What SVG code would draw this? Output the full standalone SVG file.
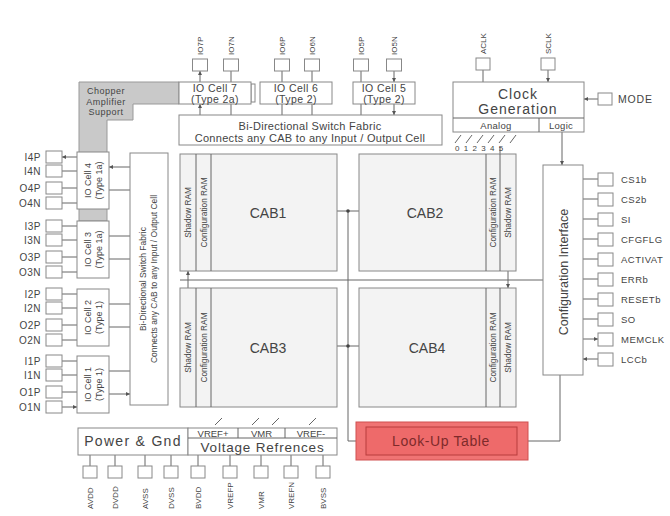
<svg xmlns="http://www.w3.org/2000/svg" width="670" height="516" viewBox="0 0 670 516">
<style>
text{font-family:"Liberation Sans",Arial,sans-serif;fill:#444}
.b{fill:#fff;stroke:#888;stroke-width:1}
.cab{fill:#f3f3f3;stroke:#888;stroke-width:1}
.pin{fill:#fff;stroke:#888;stroke-width:1}
.ln{stroke:#666;stroke-width:1;fill:none}
.da{stroke:#666;stroke-width:1;fill:none;marker-start:url(#ah);marker-end:url(#ah)}
.ae{stroke:#666;stroke-width:1;fill:none;marker-end:url(#ah)}
.s8{font-size:8px}
.s9{font-size:9px}
.lp{font-size:10px;letter-spacing:0.5px}
.rp{font-size:9.5px;letter-spacing:0.5px}
.io{font-size:10.5px;letter-spacing:0.4px}
.ch{font-size:9px;letter-spacing:0.5px}
.s14{font-size:14px}
.ram{font-size:8.3px}
.c{text-anchor:middle}
.e{text-anchor:end}
</style>
<defs>
<marker id="ah" viewBox="0 0 6 6" refX="6" refY="3" markerWidth="4" markerHeight="4" orient="auto-start-reverse"><path d="M0,0L6,3L0,6z" fill="#555"/></marker>
</defs>

<g id="chopper">
<path d="M79,82H179V104H133V120H107V221H79Z" fill="#c9c9c9" stroke="#999"/>
<text class="ch c" x="106" y="94">Chopper</text>
<text class="ch c" x="106" y="104.5">Amplifier</text>
<text class="ch c" x="106" y="115">Support</text>
</g>

<g id="connectors">
<path class="da" d="M200,71V82M231,71V82M282,71V82M312,71V82M361,71V82M394,71V82"/>
<path class="da" d="M200,104V115M231,104V115M282,104V115M312,104V115M361,104V115M394,104V115"/>
<path class="ae" d="M483,70V82M548,70V82"/>
<path class="ae" d="M598,99H584"/>
<path class="ae" d="M562,132V165"/>
<path class="ln" d="M455,143L461,135M466,143L472,135M477,143L483,135M488,143L494,135M499,143L505,135M510,143L516,135M500,147V154"/>
<path class="da" d="M62,157H77M62,171H77M62,188H77M62,203H77M62,226H77M62,240H77M62,257H77M62,272H77M62,294H77M62,308H77M62,325H77M62,340H77M62,361H77M62,375H77M62,392H77M62,407H77"/>
<path class="da" d="M109,167H130M109,190H130M109,236H130M109,259H130M109,304H130M109,327H130M109,371H130M109,394H130"/>
<path class="ae" d="M598,179H583M598,199H583M598,219H583M598,239H583M598,259H583M598,279H583M598,299H583M598,359H583"/>
<path class="ae" d="M583,319H598M583,339H598"/>
<path class="ln" d="M180,280H543"/>
<path class="da" d="M188,271V288M508,271V288"/>
<path class="ae" d="M348,211H325"/>
<path class="ae" d="M348,211H372"/>
<path class="ae" d="M348,346H325"/>
<path class="ae" d="M348,346H370"/>
<path class="ae" d="M348,211V441H366"/>
<circle cx="348" cy="211" r="1.8" fill="#444"/>
<circle cx="348" cy="346" r="1.8" fill="#444"/>
<path class="ae" d="M560,375V441H518"/>
<path class="ln" d="M215,425L222,418M252,425L259,418M272,425L279,418M309,425L316,418"/>
<path class="ln" d="M90,455V466M115,455V466M145,455V466M171,455V466M198,455V466M230,455V466M261,455V466M291,455V466M323,455V466"/>
</g>

<g id="top-pins">
<rect class="pin" x="192.5" y="59" width="15" height="12"/>
<rect class="pin" x="223.5" y="59" width="15" height="12"/>
<rect class="pin" x="274.5" y="59" width="15" height="12"/>
<rect class="pin" x="304.5" y="59" width="15" height="12"/>
<rect class="pin" x="353.5" y="59" width="15" height="12"/>
<rect class="pin" x="386.5" y="59" width="15" height="12"/>
<rect class="pin" x="476" y="58" width="14" height="12"/>
<rect class="pin" x="541" y="58" width="14" height="12"/>
<text class="s8" transform="translate(203,55) rotate(-90)">IO7P</text>
<text class="s8" transform="translate(234,55) rotate(-90)">IO7N</text>
<text class="s8" transform="translate(285,55) rotate(-90)">IO6P</text>
<text class="s8" transform="translate(315,55) rotate(-90)">IO6N</text>
<text class="s8" transform="translate(364,55) rotate(-90)">IO5P</text>
<text class="s8" transform="translate(397,55) rotate(-90)">IO5N</text>
<text class="s8" transform="translate(486,54) rotate(-90)">ACLK</text>
<text class="s8" transform="translate(551,54) rotate(-90)">SCLK</text>
</g>

<g id="io7">
<rect class="b" x="251" y="84" width="4" height="18"/>
<rect class="b" x="179" y="82" width="72" height="22"/>
<text class="io c" x="215" y="92">IO Cell 7</text>
<text class="io c" x="215" y="102.5">(Type 2a)</text>
</g>
<g id="io6">
<rect class="b" x="260" y="82" width="72" height="22"/>
<text class="io c" x="296" y="92">IO Cell 6</text>
<text class="io c" x="296" y="102.5">(Type 2)</text>
</g>
<g id="io5">
<rect class="b" x="353" y="82" width="62" height="22"/>
<text class="io c" x="384" y="92">IO Cell 5</text>
<text class="io c" x="384" y="102.5">(Type 2)</text>
</g>

<g id="fabric-top">
<rect class="b" x="179" y="115" width="263" height="30"/>
<text class="c" style="font-size:11px;letter-spacing:0.3px" x="310" y="130">Bi-Directional Switch Fabric</text>
<text class="c" style="font-size:11px;letter-spacing:0.3px" x="310" y="141.5">Connects any CAB to any Input / Output Cell</text>
</g>

<g id="clock">
<rect class="b" x="453" y="82" width="131" height="50"/>
<path class="ln" d="M453,118H584M539,118V132"/>
<text class="c" style="font-size:14px;letter-spacing:1px" x="518" y="99">Clock</text>
<text class="c" style="font-size:14px;letter-spacing:1px" x="518" y="114">Generation</text>
<text class="c" style="font-size:9.5px;letter-spacing:0.3px" x="496" y="128.5">Analog</text>
<text class="c" style="font-size:9.5px;letter-spacing:0.3px" x="561" y="128.5">Logic</text>
<text class="s8" x="455" y="151" letter-spacing="4.3">012345</text>
</g>

<g id="mode">
<rect class="pin" x="598" y="93" width="14" height="12"/>
<text style="font-size:10.5px;letter-spacing:0.8px" x="618" y="103">MODE</text>
</g>

<g id="left-pins">
<rect class="pin" x="46" y="151" width="16" height="12"/>
<rect class="pin" x="46" y="165" width="16" height="12"/>
<rect class="pin" x="46" y="182" width="16" height="12"/>
<rect class="pin" x="46" y="197" width="16" height="12"/>
<rect class="pin" x="46" y="220" width="16" height="12"/>
<rect class="pin" x="46" y="234" width="16" height="12"/>
<rect class="pin" x="46" y="251" width="16" height="12"/>
<rect class="pin" x="46" y="266" width="16" height="12"/>
<rect class="pin" x="46" y="288" width="16" height="12"/>
<rect class="pin" x="46" y="302" width="16" height="12"/>
<rect class="pin" x="46" y="319" width="16" height="12"/>
<rect class="pin" x="46" y="334" width="16" height="12"/>
<rect class="pin" x="46" y="355" width="16" height="12"/>
<rect class="pin" x="46" y="369" width="16" height="12"/>
<rect class="pin" x="46" y="386" width="16" height="12"/>
<rect class="pin" x="46" y="401" width="16" height="12"/>
<text class="lp e" x="41" y="160.5">I4P</text>
<text class="lp e" x="41" y="174.5">I4N</text>
<text class="lp e" x="41" y="191.5">O4P</text>
<text class="lp e" x="41" y="206.5">O4N</text>
<text class="lp e" x="41" y="229.5">I3P</text>
<text class="lp e" x="41" y="243.5">I3N</text>
<text class="lp e" x="41" y="260.5">O3P</text>
<text class="lp e" x="41" y="275.5">O3N</text>
<text class="lp e" x="41" y="297.5">I2P</text>
<text class="lp e" x="41" y="311.5">I2N</text>
<text class="lp e" x="41" y="328.5">O2P</text>
<text class="lp e" x="41" y="343.5">O2N</text>
<text class="lp e" x="41" y="364.5">I1P</text>
<text class="lp e" x="41" y="378.5">I1N</text>
<text class="lp e" x="41" y="395.5">O1P</text>
<text class="lp e" x="41" y="410.5">O1N</text>
</g>

<g id="io4">
<rect class="b" x="77" y="152" width="32" height="57"/>
<text class="s9 c" transform="translate(91,180.5) rotate(-90)">IO Cell 4</text>
<text class="s9 c" transform="translate(102,180.5) rotate(-90)">(Type 1a)</text>
</g>
<g id="io3">
<rect class="b" x="77" y="221" width="32" height="57"/>
<text class="s9 c" transform="translate(91,249.5) rotate(-90)">IO Cell 3</text>
<text class="s9 c" transform="translate(102,249.5) rotate(-90)">(Type 1a)</text>
</g>
<g id="io2">
<rect class="b" x="77" y="289" width="32" height="57"/>
<text class="s9 c" transform="translate(91,317.5) rotate(-90)">IO Cell 2</text>
<text class="s9 c" transform="translate(102,317.5) rotate(-90)">(Type 1)</text>
</g>
<g id="io1">
<rect class="b" x="77" y="356" width="32" height="57"/>
<text class="s9 c" transform="translate(91,384.5) rotate(-90)">IO Cell 1</text>
<text class="s9 c" transform="translate(102,384.5) rotate(-90)">(Type 1)</text>
</g>

<g id="fabric-left">
<rect class="b" x="130" y="153" width="38" height="252"/>
<text class="c" style="font-size:8.5px" transform="translate(145.5,279) rotate(-90)">Bi-Directional Switch Fabric</text>
<text class="c" style="font-size:8.5px" transform="translate(157,279) rotate(-90)">Connects any CAB to any Input / Output Cell</text>
</g>

<g id="cab1">
<rect class="cab" x="180" y="154" width="157" height="117"/>
<path class="ln" d="M196,154V271M211,154V271"/>
<text class="ram c" transform="translate(191,212.5) rotate(-90)">Shadow RAM</text>
<text class="ram c" transform="translate(206.5,212.5) rotate(-90)">Configuration RAM</text>
<text class="s14 c" x="268" y="218">CAB1</text>
</g>
<g id="cab2">
<rect class="cab" x="359" y="154" width="157" height="117"/>
<path class="ln" d="M486,154V271M500,154V271"/>
<text class="ram c" transform="translate(496,212.5) rotate(-90)">Configuration RAM</text>
<text class="ram c" transform="translate(511,212.5) rotate(-90)">Shadow RAM</text>
<text class="s14 c" x="425" y="218">CAB2</text>
</g>
<g id="cab3">
<rect class="cab" x="180" y="288" width="157" height="119"/>
<path class="ln" d="M196,288V407M211,288V407"/>
<text class="ram c" transform="translate(191,347.5) rotate(-90)">Shadow RAM</text>
<text class="ram c" transform="translate(206.5,347.5) rotate(-90)">Configuration RAM</text>
<text class="s14 c" x="268" y="353">CAB3</text>
</g>
<g id="cab4">
<rect class="cab" x="359" y="288" width="157" height="119"/>
<path class="ln" d="M486,288V407M500,288V407"/>
<text class="ram c" transform="translate(496,347.5) rotate(-90)">Configuration RAM</text>
<text class="ram c" transform="translate(511,347.5) rotate(-90)">Shadow RAM</text>
<text class="s14 c" x="427" y="353">CAB4</text>
</g>

<g id="config">
<rect class="b" x="543" y="165" width="40" height="210"/>
<text class="c" style="font-size:12.5px" transform="translate(567.5,272) rotate(-90)">Configuration Interface</text>
</g>

<g id="right-pins">
<rect class="pin" x="598" y="173" width="15" height="13"/>
<rect class="pin" x="598" y="193" width="15" height="13"/>
<rect class="pin" x="598" y="213" width="15" height="13"/>
<rect class="pin" x="598" y="233" width="15" height="13"/>
<rect class="pin" x="598" y="253" width="15" height="13"/>
<rect class="pin" x="598" y="273" width="15" height="13"/>
<rect class="pin" x="598" y="293" width="15" height="13"/>
<rect class="pin" x="598" y="313" width="15" height="13"/>
<rect class="pin" x="598" y="333" width="15" height="13"/>
<rect class="pin" x="598" y="353" width="15" height="13"/>
<text class="rp" x="621" y="183">CS1b</text>
<text class="rp" x="621" y="203">CS2b</text>
<text class="rp" x="621" y="223">SI</text>
<text class="rp" x="621" y="243">CFGFLG</text>
<text class="rp" x="621" y="263">ACTIVAT</text>
<text class="rp" x="621" y="283">ERRb</text>
<text class="rp" x="621" y="303">RESETb</text>
<text class="rp" x="621" y="323">SO</text>
<text class="rp" x="621" y="343">MEMCLK</text>
<text class="rp" x="621" y="363">LCCb</text>
</g>

<g id="lut">
<rect x="356" y="422" width="172" height="38" fill="#f07474" stroke="#d05050"/>
<rect x="366" y="427" width="151" height="28" fill="#ee6a6a" stroke="#b83c3c"/>
<text class="s14 c" x="441" y="446" style="fill:#7e2a2a;letter-spacing:0.6px">Look-Up Table</text>
</g>

<g id="power">
<rect class="b" x="78" y="428" width="110" height="27"/>
<text class="s14 c" x="133" y="446" style="letter-spacing:1.3px">Power &amp; Gnd</text>
</g>
<g id="vref">
<rect class="b" x="188" y="428" width="149" height="27"/>
<path class="ln" d="M188,438H337M238,428V438M285,428V438"/>
<text class="c" style="font-size:9.5px" x="213" y="436.5">VREF+</text>
<text class="c" style="font-size:9.5px" x="261.5" y="436.5">VMR</text>
<text class="c" style="font-size:9.5px" x="311" y="436.5">VREF-</text>
<text class="c" style="font-size:13.5px;letter-spacing:0.8px" x="262.5" y="451.5">Voltage Refrences</text>
</g>

<g id="bottom-pins">
<rect class="pin" x="83" y="466" width="14" height="12"/>
<rect class="pin" x="108" y="466" width="14" height="12"/>
<rect class="pin" x="138" y="466" width="14" height="12"/>
<rect class="pin" x="164" y="466" width="14" height="12"/>
<rect class="pin" x="191" y="466" width="14" height="12"/>
<rect class="pin" x="223" y="466" width="14" height="12"/>
<rect class="pin" x="254" y="466" width="14" height="12"/>
<rect class="pin" x="284" y="466" width="14" height="12"/>
<rect class="pin" x="316" y="466" width="14" height="12"/>
<text class="s8" transform="translate(93,509) rotate(-90)">AVDD</text>
<text class="s8" transform="translate(118,509) rotate(-90)">DVDD</text>
<text class="s8" transform="translate(148,509) rotate(-90)">AVSS</text>
<text class="s8" transform="translate(174,509) rotate(-90)">DVSS</text>
<text class="s8" transform="translate(201,509) rotate(-90)">BVDD</text>
<text class="s8" transform="translate(233,509) rotate(-90)">VREFP</text>
<text class="s8" transform="translate(264,509) rotate(-90)">VMR</text>
<text class="s8" transform="translate(294,509) rotate(-90)">VREFN</text>
<text class="s8" transform="translate(326,509) rotate(-90)">BVSS</text>
</g>
</svg>
